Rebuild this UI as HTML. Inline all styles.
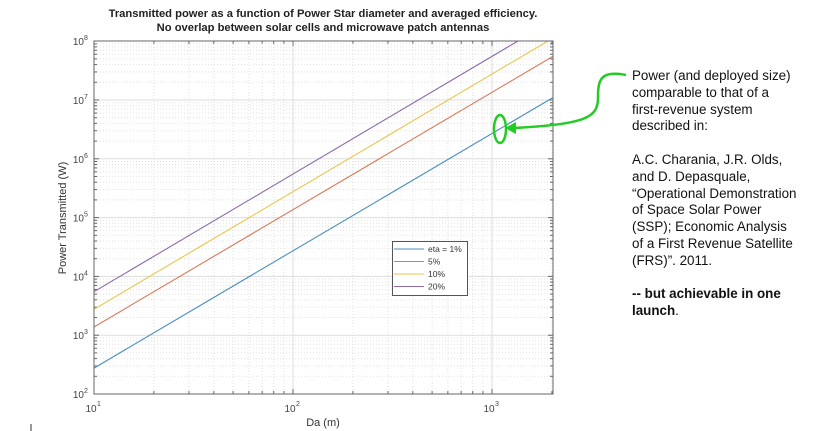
<!DOCTYPE html>
<html><head><meta charset="utf-8"><style>
body{margin:0;width:814px;height:431px;background:#fff;overflow:hidden;font-family:"Liberation Sans",Arial,sans-serif}
.note{position:absolute;left:632px;top:68px;font-size:13.4px;line-height:16.8px;color:#111;white-space:nowrap}
</style></head><body>
<svg id="s" width="814" height="431" style="position:absolute;left:0;top:0" font-family="Liberation Sans, Arial, sans-serif">
<text x="323" y="17" text-anchor="middle" font-size="11.2" font-weight="bold" fill="#222">Transmitted power as a function of Power Star diameter and averaged efficiency.</text>
<text x="323" y="31" text-anchor="middle" font-size="11.2" font-weight="bold" fill="#222">No overlap between solar cells and microwave patch antennas</text>
<g id="grid"></g>
<g fill="none" stroke-width="1.1">
<line x1="94" y1="368.1" x2="552.9" y2="97.6" stroke="#4a8fbf"/>
<line x1="94" y1="327" x2="552.9" y2="56.4" stroke="#d9795a"/>
<line x1="94" y1="309.3" x2="548" y2="41" stroke="#e8c54a"/>
<line x1="94" y1="291.7" x2="518" y2="41" stroke="#8e6aa6"/>
</g>
<rect x="94" y="41" width="459" height="353" fill="none" stroke="#666" stroke-width="1"/>
<g id="ticks" font-size="10" fill="#444"></g>
<text x="323" y="426" text-anchor="middle" font-size="11" fill="#333">Da (m)</text>
<text transform="translate(66,218) rotate(-90)" text-anchor="middle" font-size="11" fill="#333">Power Transmitted (W)</text>
<rect x="392.5" y="241.5" width="75" height="54" fill="#fff" stroke="#555"/>
<g stroke-width="1.1">
<line x1="394" y1="249" x2="424" y2="249" stroke="#4a8fbf"/>
<line x1="394" y1="261.5" x2="424" y2="261.5" stroke="#d9795a"/>
<line x1="394" y1="274" x2="424" y2="274" stroke="#e8c54a"/>
<line x1="394" y1="286.5" x2="424" y2="286.5" stroke="#8e6aa6"/>
</g>
<g font-size="8.5" fill="#333">
<text x="428" y="252">eta = 1%</text><text x="428" y="264.5">5%</text><text x="428" y="277">10%</text><text x="428" y="289.5">20%</text>
</g>
<ellipse cx="500" cy="129" rx="6" ry="14" fill="none" stroke="#22cc22" stroke-width="2.5"/>
<path d="M626,75 C600,70 598,80 598,98 C598,118 585,124 514,128" fill="none" stroke="#22cc22" stroke-width="2.5"/>
<polygon points="505,128 516,122 516,134" fill="#22cc22"/>
<line x1="31" y1="424" x2="31" y2="431" stroke="#333"/>
</svg>
<div class="note">Power (and deployed size)<br>comparable to that of a<br>first-revenue system<br>described in:<br><br>A.C. Charania, J.R. Olds,<br>and D. Depasquale,<br>“Operational Demonstration<br>of Space Solar Power<br>(SSP); Economic Analysis<br>of a First Revenue Satellite<br>(FRS)”. 2011.<br><br><b>-- but achievable in one<br>launch</b>.</div>
<script>
var NS="http://www.w3.org/2000/svg",g=document.getElementById("grid"),t=document.getElementById("ticks");
function el(p,n,a,txt){var e=document.createElementNS(NS,n);for(var k in a)e.setAttribute(k,a[k]);if(txt)e.textContent=txt;p.appendChild(e);return e;}
var X=function(l){return 94+199*(l-1)},Y=function(l){return 394-58.8*(l-2)};
for(var d=1;d<=3;d++){for(var m=1;m<=9;m++){var l=d+Math.log10(m);if(l>3.302)break;var x=X(l);
if(m==1){el(g,"line",{x1:x,y1:41,x2:x,y2:394,stroke:"#ddd"});}else el(g,"line",{x1:x,y1:41,x2:x,y2:394,stroke:"#e2e2e2","stroke-dasharray":"1,2"});
el(g,"line",{x1:x,y1:394,x2:x,y2:m==1?389:391,stroke:"#666"});el(g,"line",{x1:x,y1:41,x2:x,y2:m==1?46:44,stroke:"#666"});}}
for(var d=2;d<8;d++){for(var m=1;m<=9;m++){var y=Y(d+Math.log10(m));
if(m==1)el(g,"line",{x1:94,y1:y,x2:553,y2:y,stroke:"#ddd"});else el(g,"line",{x1:94,y1:y,x2:553,y2:y,stroke:"#e2e2e2","stroke-dasharray":"1,2"});
el(g,"line",{x1:94,y1:y,x2:m==1?99:97,y2:y,stroke:"#666"});el(g,"line",{x1:553,y1:y,x2:m==1?548:550,y2:y,stroke:"#666"});}}
for(var d=2;d<=8;d++){var y=Y(d);var tx=el(t,"text",{x:84,y:y+4,"text-anchor":"end"},"10");el(t,"text",{x:84,y:y-1,"font-size":"7"},""+d);}
for(var d=1;d<=3;d++){var x=X(d);el(t,"text",{x:x-3,y:412,"text-anchor":"middle"},"10");el(t,"text",{x:x+3,y:406,"font-size":"7"},""+d);}
</script>
</body></html>
